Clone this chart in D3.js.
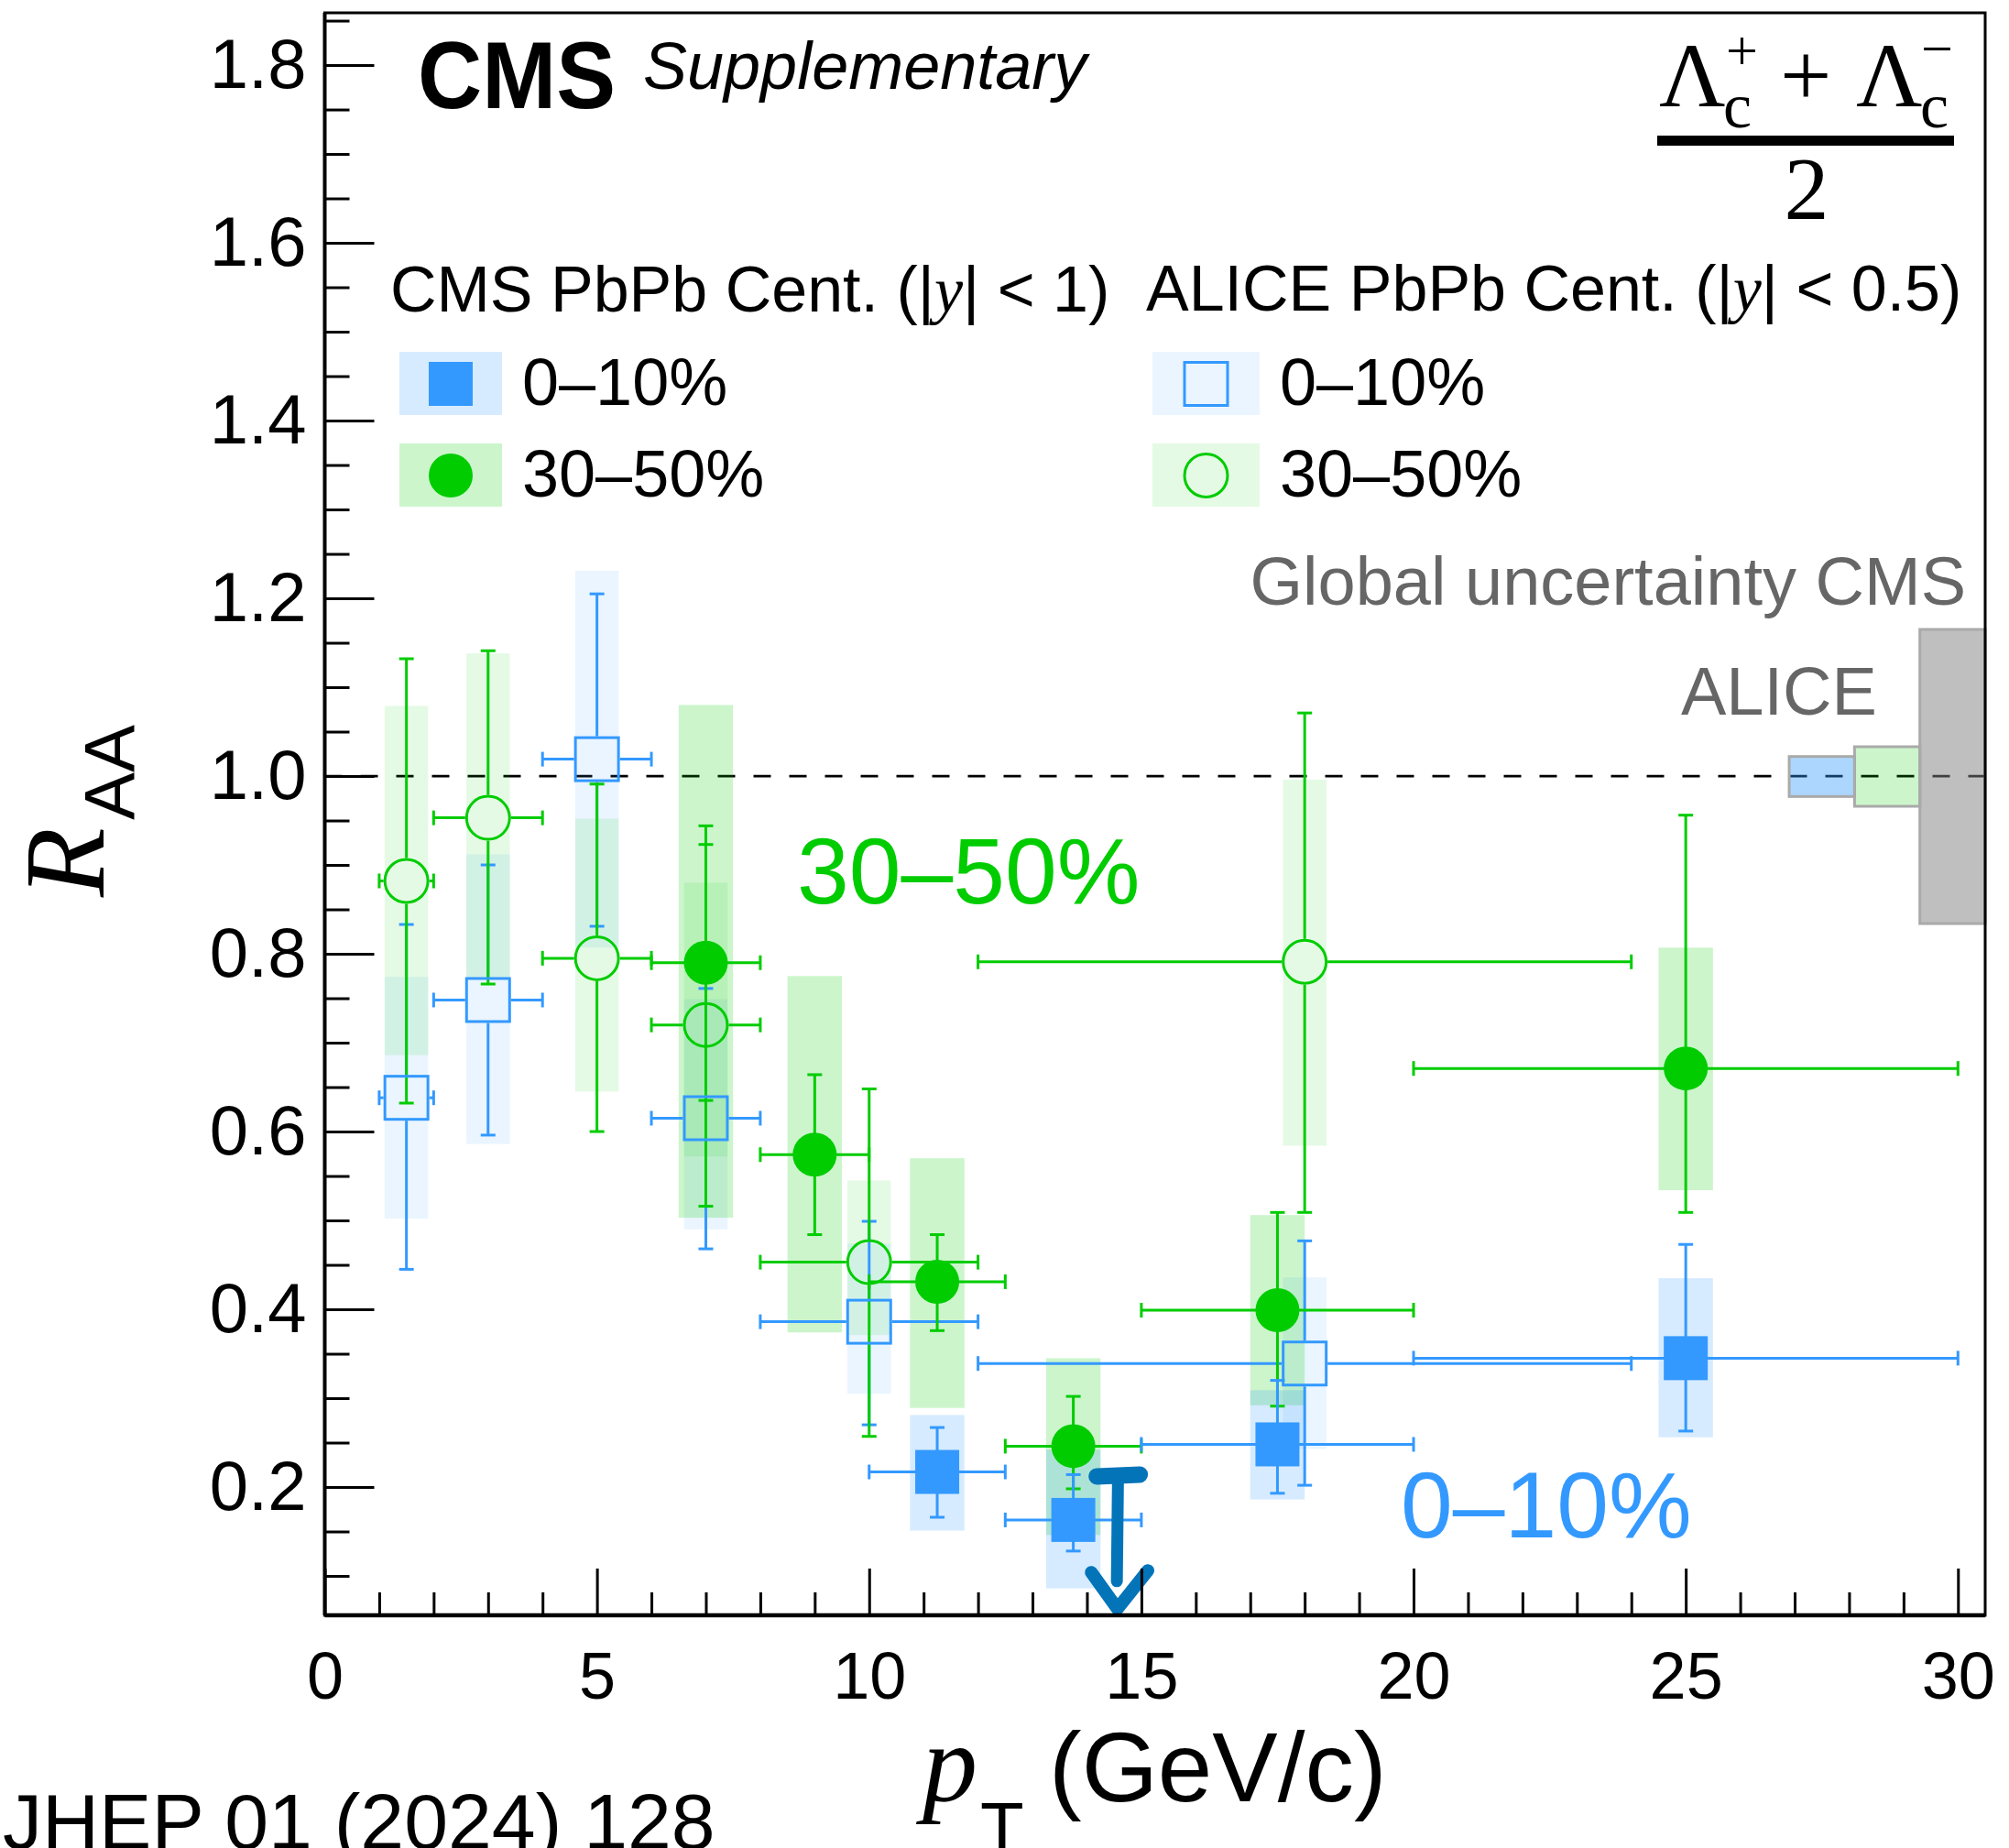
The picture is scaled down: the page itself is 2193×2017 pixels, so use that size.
<!DOCTYPE html>
<html>
<head>
<meta charset="utf-8">
<script src="https://cdn.jsdelivr.net/npm/d3@7"></script>
<style>
  html, body { margin: 0; padding: 0; background: #ffffff; }
  svg { display: block; }
  text { font-family: "Liberation Sans", Arial, Helvetica, sans-serif; }
  .serif { font-family: "Liberation Serif", "Times New Roman", serif; }
</style>
</head>
<body>
<svg id="chart" width="2193" height="2017"></svg>
<script>
// ---------------- data ----------------
// CMS PbPb 0-10% (|y| < 1)
const cms010Pt     = [11.25, 13.75, 17.5, 25];
const cms010PtLo   = [10, 12.5, 15, 20];
const cms010PtHi   = [12.5, 15, 20, 30];
const cms010Raa    = [0.217, 0.163, 0.248, 0.345];
const cms010StatLo = [0.166, 0.128, 0.193, 0.263];
const cms010StatHi = [0.267, 0.214, 0.320, 0.473];
const cms010SystLo = [0.151, 0.086, 0.186, 0.256];
const cms010SystHi = [0.281, 0.242, 0.309, 0.435];

// CMS PbPb 30-50% (|y| < 1)
const cms3050Pt     = [7, 9, 11.25, 13.75, 17.5, 25];
const cms3050PtLo   = [6, 8, 10, 12.5, 15, 20];
const cms3050PtHi   = [8, 10, 12.5, 15, 20, 30];
const cms3050Raa    = [0.790, 0.574, 0.431, 0.246, 0.399, 0.671];
const cms3050StatLo = [0.635, 0.484, 0.376, 0.198, 0.291, 0.509];
const cms3050StatHi = [0.944, 0.664, 0.484, 0.302, 0.509, 0.956];
const cms3050SystLo = [0.503, 0.374, 0.289, 0.146, 0.292, 0.534];
const cms3050SystHi = [1.080, 0.775, 0.570, 0.345, 0.506, 0.807];

// ALICE PbPb 0-10% (|y| < 0.5)
const alice010Pt     = [1.5, 3, 5, 7, 10, 18];
const alice010PtLo   = [1, 2, 4, 6, 8, 12];
const alice010PtHi   = [2, 4, 6, 8, 12, 24];
const alice010Raa    = [0.638, 0.748, 1.019, 0.615, 0.386, 0.339];
const alice010StatLo = [0.445, 0.596, 0.831, 0.468, 0.270, 0.202];
const alice010StatHi = [0.833, 0.900, 1.205, 0.761, 0.499, 0.477];
const alice010SystLo = [0.502, 0.586, 0.807, 0.490, 0.305, 0.243];
const alice010SystHi = [0.774, 0.912, 1.231, 0.749, 0.474, 0.436];

// ALICE PbPb 30-50% (|y| < 0.5)
const alice3050Pt     = [1.5, 3, 5, 7, 10, 18];
const alice3050PtLo   = [1, 2, 4, 6, 8, 12];
const alice3050PtHi   = [2, 4, 6, 8, 12, 24];
const alice3050Raa    = [0.882, 0.953, 0.795, 0.720, 0.453, 0.791];
const alice3050StatLo = [0.632, 0.766, 0.600, 0.516, 0.257, 0.509];
const alice3050StatHi = [1.132, 1.141, 0.991, 0.923, 0.648, 1.071];
const alice3050SystLo = [0.686, 0.773, 0.645, 0.572, 0.371, 0.584];
const alice3050SystHi = [1.079, 1.138, 0.952, 0.880, 0.545, 0.996];

// global (normalisation) uncertainties around unity: ALICE 0-10, ALICE 30-50, CMS
const globalNames = ["ALICE 0-10%", "ALICE 30-50%", "CMS"];
const globalPtLo  = [26.9, 28.1, 29.3];
const globalPtHi  = [28.1, 29.3, 30.5];
const globalLo    = [0.977, 0.966, 0.834];
const globalHi    = [1.022, 1.033, 1.165];

// hand-drawn upper-limit sign near pT = 14.6
const limitBar   = [[14.18, 0.212], [14.97, 0.214]];
const limitStem  = [[14.57, 0.205], [14.55, 0.094]];
const limitArrow = [[14.08, 0.104], [14.56, 0.063], [15.12, 0.106]];

// axes
const xDomain = [0, 30.5];
const yDomain = [0.0557, 1.8588];
const xMajor = [0, 5, 10, 15, 20, 25, 30];
const xTickLabels = ["0", "5", "10", "15", "20", "25", "30"];
const xMinor = d3.range(1, 31).filter(v => v % 5 !== 0);
const yMajor = [0.2, 0.4, 0.6, 0.8, 1.0, 1.2, 1.4, 1.6, 1.8];
const yTickLabels = ["0.2", "0.4", "0.6", "0.8", "1.0", "1.2", "1.4", "1.6", "1.8"];
const yMinor = d3.range(2, 38).map(i => i * 0.05).filter(v => Math.abs(v * 5 - Math.round(v * 5)) > 1e-6);

// ---------------- styling ----------------
const BLUE = "#3399ff";
const GREEN = "#00cc00";

const series = [
  { pt: alice010Pt, lo: alice010PtLo, hi: alice010PtHi, r: alice010Raa,
    sLo: alice010StatLo, sHi: alice010StatHi, yLo: alice010SystLo, yHi: alice010SystHi,
    color: BLUE, open: true, shape: "square", boxW: 0.8, alpha: 0.1 },
  { pt: alice3050Pt, lo: alice3050PtLo, hi: alice3050PtHi, r: alice3050Raa,
    sLo: alice3050StatLo, sHi: alice3050StatHi, yLo: alice3050SystLo, yHi: alice3050SystHi,
    color: GREEN, open: true, shape: "circle", boxW: 0.8, alpha: 0.1 },
  { pt: cms3050Pt, lo: cms3050PtLo, hi: cms3050PtHi, r: cms3050Raa,
    sLo: cms3050StatLo, sHi: cms3050StatHi, yLo: cms3050SystLo, yHi: cms3050SystHi,
    color: GREEN, open: false, shape: "circle", boxW: 1.0, alpha: 0.2 },
  { pt: cms010Pt, lo: cms010PtLo, hi: cms010PtHi, r: cms010Raa,
    sLo: cms010StatLo, sHi: cms010StatHi, yLo: cms010SystLo, yHi: cms010SystHi,
    color: BLUE, open: false, shape: "square", boxW: 1.0, alpha: 0.2 }
];
const points = s => s.pt.map((p, i) => ({
  pt: p, lo: s.lo[i], hi: s.hi[i], r: s.r[i],
  sLo: s.sLo[i], sHi: s.sHi[i], yLo: s.yLo[i], yHi: s.yHi[i]
}));

const frame = { left: 354.5, right: 2167, top: 14, bottom: 1763 };
const x = d3.scaleLinear().domain(xDomain).range([frame.left, frame.right]);
const y = d3.scaleLinear().domain(yDomain).range([frame.bottom, frame.top]);

const svg = d3.select("#chart");
svg.append("rect").attr("width", 2193).attr("height", 2017).attr("fill", "#ffffff");

// reference line at unity
svg.append("line")
  .attr("x1", x(xDomain[0])).attr("x2", x(xDomain[1]))
  .attr("y1", y(1)).attr("y2", y(1))
  .attr("stroke", "#000").attr("stroke-width", 2.7)
  .attr("stroke-dasharray", "19 20");

const plot = svg.append("g");

// systematic boxes
series.forEach(s => {
  plot.append("g").selectAll("rect").data(points(s)).join("rect")
    .attr("x", d => x(d.pt - s.boxW / 2))
    .attr("width", d => x(d.pt + s.boxW / 2) - x(d.pt - s.boxW / 2))
    .attr("y", d => y(d.yHi))
    .attr("height", d => y(d.yLo) - y(d.yHi))
    .attr("fill", s.color).attr("fill-opacity", s.alpha);
});

// statistical error bars and bin widths
const CAP = 8;
series.forEach(s => {
  const gap = s.open ? 25 : 0;
  const g = plot.append("g").attr("stroke", s.color).attr("stroke-width", 3).attr("fill", "none");
  points(s).forEach(d => {
    const cx = x(d.pt), cy = y(d.r);
    const segs = [
      [x(d.lo), cy, cx - gap, cy],
      [cx + gap, cy, x(d.hi), cy],
      [cx, y(d.sHi), cx, cy - gap],
      [cx, cy + gap, cx, y(d.sLo)]
    ];
    segs.forEach(([x1, y1, x2, y2]) => {
      if (x2 - x1 > 0.5 || y2 - y1 > 0.5)
        g.append("line").attr("x1", x1).attr("y1", y1).attr("x2", x2).attr("y2", y2);
    });
    [x(d.lo), x(d.hi)].forEach(xx =>
      g.append("line").attr("x1", xx).attr("x2", xx).attr("y1", cy - CAP).attr("y2", cy + CAP));
    [y(d.sLo), y(d.sHi)].forEach(yy =>
      g.append("line").attr("x1", cx - CAP).attr("x2", cx + CAP).attr("y1", yy).attr("y2", yy));
  });
});

// markers
function drawMarker(g, cx, cy, s) {
  if (s.shape === "square") {
    const side = s.open ? 47 : 48;
    g.append("rect").attr("x", cx - side / 2).attr("y", cy - side / 2)
      .attr("width", side).attr("height", side)
      .attr("fill", s.open ? "none" : s.color)
      .attr("stroke", s.open ? s.color : "none").attr("stroke-width", 3);
  } else {
    g.append("circle").attr("cx", cx).attr("cy", cy).attr("r", s.open ? 23.5 : 24)
      .attr("fill", s.open ? "none" : s.color)
      .attr("stroke", s.open ? s.color : "none").attr("stroke-width", 3);
  }
}
series.forEach(s => {
  const g = plot.append("g");
  points(s).forEach(d => drawMarker(g, x(d.pt), y(d.r), s));
});

// global uncertainty boxes
const globalFill = [[BLUE, 0.4], [GREEN, 0.2], ["#808080", 0.5]];
svg.append("g").selectAll("rect").data(globalNames).join("rect")
  .attr("x", (d, i) => x(globalPtLo[i]))
  .attr("width", (d, i) => x(globalPtHi[i]) - x(globalPtLo[i]))
  .attr("y", (d, i) => y(globalHi[i]))
  .attr("height", (d, i) => y(globalLo[i]) - y(globalHi[i]))
  .attr("fill", (d, i) => globalFill[i][0])
  .attr("fill-opacity", (d, i) => globalFill[i][1])
  .attr("stroke", "#aaaaaa").attr("stroke-width", 3);

// hand-drawn upper-limit sign
const pen = d3.line().x(d => x(d[0])).y(d => y(d[1]));
const limit = svg.append("g").attr("fill", "none").attr("stroke", "#0474b9")
  .attr("stroke-linecap", "round").attr("stroke-linejoin", "round");
limit.append("path").attr("d", pen(limitBar)).attr("stroke-width", 18);
limit.append("path").attr("d", pen(limitStem)).attr("stroke-width", 13);
limit.append("path").attr("d", pen(limitArrow)).attr("stroke-width", 14);

// ---------------- axes ----------------
const font = "Liberation Sans, Arial, Helvetica, sans-serif";
const xAxis = svg.append("g").attr("transform", `translate(0,${frame.bottom})`)
  .call(d3.axisBottom(x).tickValues(xMajor).tickSize(-51).tickPadding(40)
    .tickFormat((d, i) => xTickLabels[i]));
const xAxisMinor = svg.append("g").attr("transform", `translate(0,${frame.bottom})`)
  .call(d3.axisBottom(x).tickValues(xMinor).tickSize(-25).tickFormat(""));
const yAxis = svg.append("g").attr("transform", `translate(${frame.left},0)`)
  .call(d3.axisLeft(y).tickValues(yMajor).tickSize(-54).tickPadding(20)
    .tickFormat((d, i) => yTickLabels[i]));
const yAxisMinor = svg.append("g").attr("transform", `translate(${frame.left},0)`)
  .call(d3.axisLeft(y).tickValues(yMinor).tickSize(-27).tickFormat(""));
[xAxis, xAxisMinor, yAxis, yAxisMinor].forEach(a => {
  a.select(".domain").remove();
  a.selectAll(".tick line").attr("stroke", "#000").attr("stroke-width", 3);
});
xAxis.selectAll("text").attr("font-size", 72).attr("font-family", font).attr("fill", "#000");
yAxis.selectAll("text").attr("font-size", 76).attr("font-family", font).attr("fill", "#000");

// frame
svg.append("rect")
  .attr("x", frame.left).attr("y", frame.top)
  .attr("width", frame.right - frame.left).attr("height", frame.bottom - frame.top)
  .attr("fill", "none").attr("stroke", "#000").attr("stroke-width", 3);
svg.append("line").attr("x1", frame.left).attr("x2", frame.right)
  .attr("y1", frame.bottom).attr("y2", frame.bottom).attr("stroke", "#000").attr("stroke-width", 4.5);
svg.append("line").attr("x1", frame.left).attr("x2", frame.left)
  .attr("y1", frame.top).attr("y2", frame.bottom).attr("stroke", "#000").attr("stroke-width", 4);

// axis titles
svg.append("text").attr("class", "serif").attr("font-style", "italic").attr("font-size", 120)
  .attr("x", 1007).attr("y", 1965).attr("fill", "#000").text("p");
svg.append("text").attr("x", 1070).attr("y", 2022).attr("font-size", 78).attr("fill", "#000").text("T");
svg.append("text").attr("x", 1145).attr("y", 1966).attr("font-size", 107).attr("fill", "#000").text("(GeV/c)");

svg.append("text").attr("class", "serif").attr("font-style", "italic").attr("font-size", 124)
  .attr("transform", "translate(113,979) rotate(-90)").attr("fill", "#000").text("R");
svg.append("text").attr("font-size", 78)
  .attr("transform", "translate(147,895) rotate(-90)").attr("fill", "#000").text("AA");

// ---------------- labels ----------------
svg.append("text").attr("x", 456).attr("y", 118).attr("font-size", 104).attr("font-weight", "bold")
  .attr("textLength", 216).attr("lengthAdjust", "spacingAndGlyphs").text("CMS");
svg.append("text").attr("x", 702).attr("y", 97).attr("font-size", 72).attr("font-style", "italic")
  .text("Supplementary");

// particle label (Lambda_c+ + Lambda_c-)/2
const frac = svg.append("g").attr("fill", "#000");
const num = frac.append("text").attr("class", "serif").attr("font-size", 100);
num.append("tspan").attr("x", 1811).attr("y", 116).text("Λ");
num.append("tspan").attr("x", 1881).attr("y", 139).attr("font-size", 70).text("c");
num.append("tspan").attr("x", 1884).attr("y", 76).attr("font-size", 62).text("+");
num.append("tspan").attr("x", 1943).attr("y", 116).text("+");
num.append("tspan").attr("x", 2026).attr("y", 116).text("Λ");
num.append("tspan").attr("x", 2096).attr("y", 139).attr("font-size", 70).text("c");
num.append("tspan").attr("x", 2097).attr("y", 74).attr("font-size", 62).text("−");
frac.append("rect").attr("x", 1809).attr("y", 148).attr("width", 324).attr("height", 11);
frac.append("text").attr("class", "serif").attr("x", 1972).attr("y", 239).attr("font-size", 98)
  .attr("text-anchor", "middle").text("2");

// legend headers
function header(xp, yp, pre, post) {
  const t = svg.append("text").attr("x", xp).attr("y", yp).attr("font-size", 70).attr("fill", "#000");
  t.append("tspan").text(pre);
  t.append("tspan").attr("class", "serif").attr("font-style", "italic").text("y");
  t.append("tspan").text(post);
}
header(426, 340, "CMS PbPb Cent. (|", "| < 1)");
header(1251, 339, "ALICE PbPb Cent. (|", "| < 0.5)");

// legend entries
const legendLabels = ["0–10%", "30–50%", "0–10%", "30–50%"];
const legendSeries = [3, 2, 0, 1];
const legendX = [436, 436, 1258, 1258];
const legendBoxW = [112, 112, 117, 117];
const legendRowY = [384, 484, 384, 484];
legendLabels.forEach((lab, k) => {
  const s = series[legendSeries[k]];
  const g = svg.append("g");
  g.append("rect").attr("x", legendX[k]).attr("y", legendRowY[k])
    .attr("width", legendBoxW[k]).attr("height", 69)
    .attr("fill", s.color).attr("fill-opacity", s.alpha);
  drawMarker(g, legendX[k] + legendBoxW[k] / 2, legendRowY[k] + 35, s);
  g.append("text").attr("x", legendX[k] + legendBoxW[k] + 22).attr("y", legendRowY[k] + 58)
    .attr("font-size", 72).attr("fill", "#000").text(lab);
});

// in-plot annotations
svg.append("text").attr("x", 870).attr("y", 986).attr("font-size", 102).attr("fill", GREEN).text("30–50%");
svg.append("text").attr("x", 1529).attr("y", 1678).attr("font-size", 102).attr("fill", BLUE).text("0–10%");
svg.append("text").attr("x", 2146).attr("y", 660).attr("font-size", 74).attr("fill", "#666666")
  .attr("text-anchor", "end").text("Global uncertainty CMS");
svg.append("text").attr("x", 1835).attr("y", 780).attr("font-size", 74).attr("fill", "#666666").text("ALICE");

// publication reference
svg.append("text").attr("x", 3).attr("y", 2018).attr("font-size", 86).attr("fill", "#000")
  .text("JHEP 01 (2024) 128");
</script>
</body>
</html>
